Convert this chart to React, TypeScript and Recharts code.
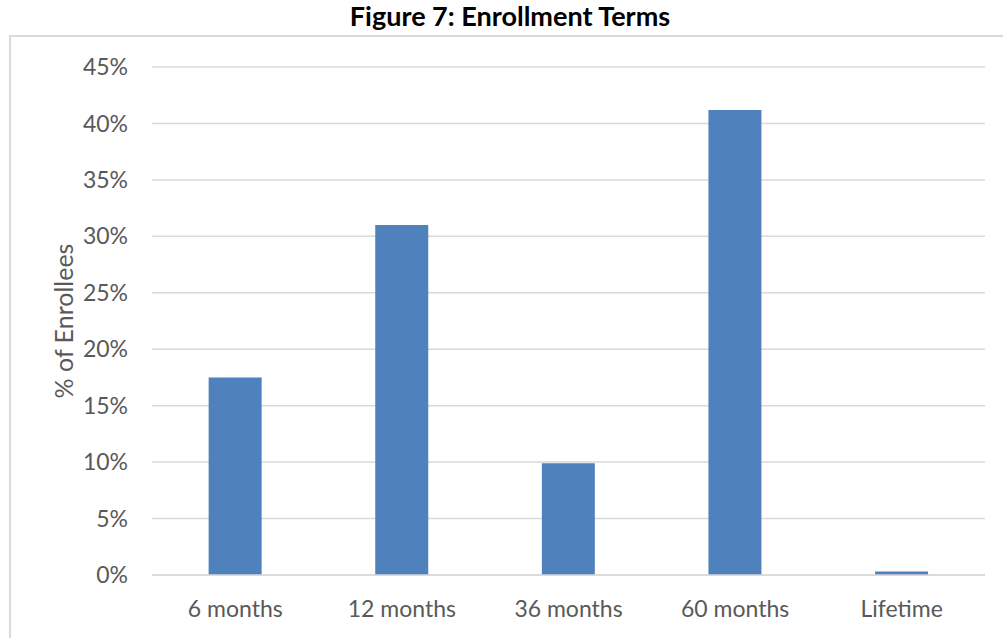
import React from "react";
import { BarChart, Bar, XAxis, YAxis, CartesianGrid, Label } from "recharts";

const categories = ["6 months", "12 months", "36 months", "60 months", "Lifetime"];
const enrollees = [17.5, 31.0, 9.9, 41.2, 0.3];
const yTicks = [0, 5, 10, 15, 20, 25, 30, 35, 40, 45];
const chartTitle = "Figure 7: Enrollment Terms";
const yAxisTitle = "% of Enrollees";

const data = categories.map((c, i) => ({ term: c, value: enrollees[i] }));

const FONT = "Lato, 'Open Sans', sans-serif";
const TEXT = "#595959";
const GRID = "#d9d9d9";

export default function App() {
  return (
    <div
      style={{
        position: "absolute",
        left: 0,
        top: 0,
        width: 1003,
        height: 638,
        overflow: "hidden",
        background: "#fff",
        fontFamily: FONT,
      }}
    >
      <div
        style={{
          position: "absolute",
          left: 0,
          top: 0,
          width: 1020,
          textAlign: "center",
          fontWeight: 700,
          fontSize: 27,
          color: "#000",
          fontFamily: FONT,
          lineHeight: "32px",
          whiteSpace: "nowrap",
        }}
      >
        {chartTitle}
      </div>
      <div
        style={{
          position: "absolute",
          left: 9,
          top: 35,
          width: 1010,
          height: 640,
          border: `2px solid ${GRID}`,
          boxSizing: "border-box",
        }}
      />
      <div style={{ position: "absolute", left: 0, top: 0 }}>
        <BarChart
          width={1003}
          height={638}
          data={data}
          margin={{ top: 67, right: 18, bottom: 33, left: 52 }}
          barCategoryGap="34%"
        >
          <CartesianGrid vertical={false} stroke={GRID} strokeWidth={1.5} />
          <XAxis
            dataKey="term"
            height={30}
            axisLine={{ stroke: GRID, strokeWidth: 1.5 }}
            tickLine={false}
            tickMargin={20}
            tick={{ fill: TEXT, fontSize: 23, fontFamily: FONT }}
            interval={0}
          />
          <YAxis
            width={100}
            domain={[0, 45]}
            ticks={yTicks}
            axisLine={false}
            tickLine={false}
            tickMargin={18}
            tickFormatter={(v: number) => `${v}%`}
            tick={{ fill: TEXT, fontSize: 23, fontFamily: FONT }}
          >
            <Label
              value={yAxisTitle}
              angle={-90}
              position="insideLeft"
              offset={0}
              dx={12}
              style={{ fill: TEXT, fontSize: 25, fontFamily: FONT, textAnchor: "middle" }}
            />
          </YAxis>
          <Bar dataKey="value" fill="#4f81bd" isAnimationActive={false} />
        </BarChart>
      </div>
    </div>
  );
}
